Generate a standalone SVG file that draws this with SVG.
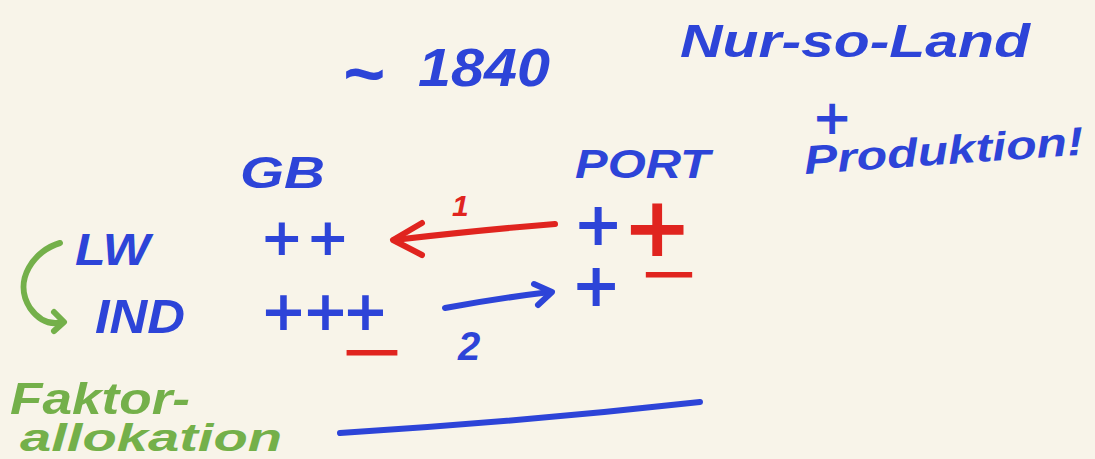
<svg xmlns="http://www.w3.org/2000/svg" width="1095" height="459" viewBox="0 0 1095 459">
<style>
text{font-family:"Liberation Sans","DejaVu Sans",sans-serif;font-style:italic;font-weight:bold}
text.s{font-family:"DejaVu Sans",sans-serif;font-style:normal;font-weight:bold}
.b{fill:#2d44d8}
.r{fill:#e0241f}
.g{fill:#74b04a}
.sb{stroke:#2d44d8;stroke-width:6;fill:none;stroke-linecap:round;stroke-linejoin:round}
.sr{stroke:#e0241f;stroke-width:6;fill:none;stroke-linecap:round;stroke-linejoin:round}
.sg{stroke:#74b04a;stroke-width:6;fill:none;stroke-linecap:round;stroke-linejoin:round}
</style>
<rect width="1095" height="459" fill="#f8f4e9"/>
<g id="title">
<text class="b" x="342" y="98" font-size="72">~</text>
<text class="b" x="418" y="86" font-size="54" textLength="132" lengthAdjust="spacingAndGlyphs">1840</text>
</g>
<g id="nur-so-land">
<text class="b" x="680" y="57" font-size="46" textLength="350" lengthAdjust="spacingAndGlyphs">Nur-so-Land</text>
<text class="b s" x="812" y="134" font-size="48">+</text>
<text class="b" x="805" y="174" font-size="40" textLength="280" lengthAdjust="spacingAndGlyphs" transform="rotate(-4 805 174)">Produktion!</text>
</g>
<g id="gb">
<text class="b" x="240" y="188" font-size="44" textLength="85" lengthAdjust="spacingAndGlyphs">GB</text>
</g>
<g id="port">
<text class="b" x="575" y="178" font-size="40" textLength="135" lengthAdjust="spacingAndGlyphs">PORT</text>
</g>
<g id="lw">
<text class="b" x="75" y="265" font-size="44" textLength="75" lengthAdjust="spacingAndGlyphs">LW</text>
<text class="b s" x="260 306" y="255" font-size="52">++</text>
<text class="b s" x="573" y="245" font-size="60">+</text>
<text class="r s" x="622" y="256" font-size="84">+</text>
</g>
<g id="ind">
<text class="b" x="95" y="333" font-size="48" textLength="90" lengthAdjust="spacingAndGlyphs">IND</text>
<text class="b s" x="260 302 342" y="330" font-size="56">+++</text>
<text class="r s" x="338" y="368" font-size="48" textLength="68" lengthAdjust="spacingAndGlyphs">−</text>
<text class="b s" x="571" y="306" font-size="60">+</text>
<text class="r s" x="638" y="290" font-size="48" textLength="62" lengthAdjust="spacingAndGlyphs">−</text>
</g>
<g id="faktorallokation">
<text class="g" x="10" y="414" font-size="44" textLength="180" lengthAdjust="spacingAndGlyphs">Faktor-</text>
<text class="g" x="20" y="451" font-size="38" textLength="262" lengthAdjust="spacingAndGlyphs">allokation</text>
</g>
<g id="connectors">
<path class="sr" d="M555 224 Q480 230 394 240"/>
<path class="sr" d="M422 223 L393 240 L422 255"/>
<text class="r" x="452" y="216" font-size="30">1</text>
<path class="sb" d="M445 308 Q500 298 550 292"/>
<path class="sb" d="M534 284 L552 292 L538 305"/>
<text class="b" x="458" y="360" font-size="40">2</text>
<path class="sg" d="M60 243 C35 250 12 280 30 308 C40 322 52 325 63 322"/>
<path class="sg" d="M54 312 L64 322 L54 331"/>
<path class="sb" d="M340 433 Q520 422 700 402"/>
</g>
</svg>
